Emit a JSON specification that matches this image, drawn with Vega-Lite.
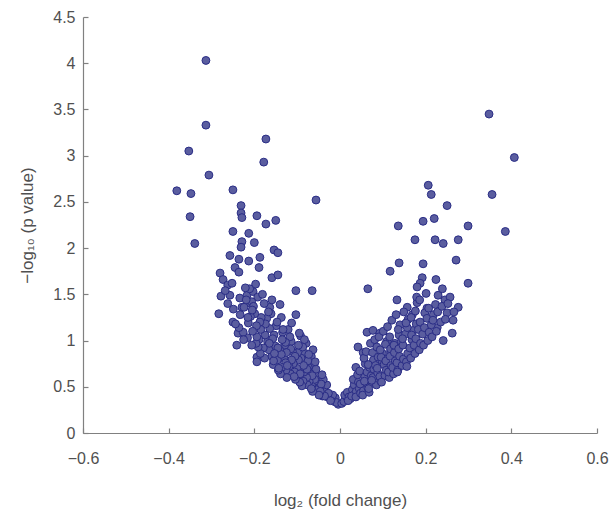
{
  "$schema": "https://vega.github.io/schema/vega-lite/v6.json",
  "width": 514,
  "height": 416,
  "autosize": {"type": "none"},
  "padding": {"left": 83, "top": 17, "right": 15, "bottom": 81},
  "background": "white",
  "config": {
    "view": {"stroke": null},
    "font": "Liberation Sans",
    "axis": {
      "grid": false,
      "domainColor": "#808080",
      "domainWidth": 1.2,
      "tickColor": "#808080",
      "tickWidth": 1.2,
      "tickSize": -5,
      "labelFont": "Liberation Sans",
      "labelFontSize": 16,
      "labelColor": "#505050",
      "titleFont": "Liberation Sans",
      "titleFontSize": 17,
      "titleFontWeight": "normal",
      "titleColor": "#505050"
    }
  },
  "data": {
    "values": [
      {"x": -0.313, "y": 4.03}, {"x": -0.313, "y": 3.33}, {"x": -0.353, "y": 3.05}, {"x": -0.173, "y": 3.18},
      {"x": -0.178, "y": 2.93}, {"x": -0.306, "y": 2.79}, {"x": -0.381, "y": 2.62}, {"x": -0.348, "y": 2.59},
      {"x": -0.25, "y": 2.63}, {"x": -0.056, "y": 2.52}, {"x": -0.35, "y": 2.34}, {"x": -0.231, "y": 2.46},
      {"x": -0.231, "y": 2.38}, {"x": -0.229, "y": 2.33}, {"x": -0.194, "y": 2.35}, {"x": -0.173, "y": 2.26},
      {"x": -0.15, "y": 2.3}, {"x": -0.339, "y": 2.05}, {"x": -0.25, "y": 2.18}, {"x": -0.213, "y": 2.16},
      {"x": -0.229, "y": 2.07}, {"x": -0.231, "y": 2.01}, {"x": -0.2, "y": 2.06}, {"x": -0.154, "y": 1.98},
      {"x": -0.145, "y": 1.95}, {"x": -0.257, "y": 1.92}, {"x": -0.236, "y": 1.88}, {"x": -0.213, "y": 1.86},
      {"x": -0.187, "y": 1.9}, {"x": -0.189, "y": 1.79}, {"x": -0.245, "y": 1.79}, {"x": -0.236, "y": 1.74},
      {"x": -0.28, "y": 1.73}, {"x": -0.273, "y": 1.66}, {"x": -0.262, "y": 1.6}, {"x": -0.252, "y": 1.62},
      {"x": -0.159, "y": 1.68}, {"x": -0.145, "y": 1.71}, {"x": -0.103, "y": 1.54}, {"x": -0.065, "y": 1.54},
      {"x": -0.278, "y": 1.48}, {"x": -0.257, "y": 1.49}, {"x": -0.234, "y": 1.46}, {"x": -0.217, "y": 1.49},
      {"x": -0.203, "y": 1.53}, {"x": -0.192, "y": 1.47}, {"x": -0.229, "y": 1.36}, {"x": -0.215, "y": 1.41},
      {"x": -0.206, "y": 1.42}, {"x": -0.159, "y": 1.44}, {"x": -0.164, "y": 1.36}, {"x": -0.14, "y": 1.39},
      {"x": -0.283, "y": 1.29}, {"x": -0.25, "y": 1.2}, {"x": -0.238, "y": 1.08}, {"x": -0.241, "y": 0.95},
      {"x": -0.194, "y": 0.82}, {"x": -0.194, "y": 0.77},

      {"x": -0.004, "y": 0.31}, {"x": -0.013, "y": 0.34}, {"x": -0.011, "y": 0.38}, {"x": -0.008, "y": 0.33},
      {"x": -0.021, "y": 0.36}, {"x": -0.017, "y": 0.41}, {"x": -0.029, "y": 0.39}, {"x": -0.022, "y": 0.35},
      {"x": -0.036, "y": 0.46}, {"x": -0.027, "y": 0.43}, {"x": -0.031, "y": 0.52}, {"x": -0.041, "y": 0.4},
      {"x": -0.036, "y": 0.4}, {"x": -0.047, "y": 0.49}, {"x": -0.039, "y": 0.58}, {"x": -0.051, "y": 0.44},
      {"x": -0.044, "y": 0.53}, {"x": -0.057, "y": 0.47}, {"x": -0.046, "y": 0.45}, {"x": -0.059, "y": 0.56},
      {"x": -0.053, "y": 0.62}, {"x": -0.049, "y": 0.41}, {"x": -0.061, "y": 0.74}, {"x": -0.042, "y": 0.63},
      {"x": -0.066, "y": 0.51}, {"x": -0.056, "y": 0.69}, {"x": -0.064, "y": 0.45}, {"x": -0.069, "y": 0.64},
      {"x": -0.059, "y": 0.58}, {"x": -0.067, "y": 0.83}, {"x": -0.072, "y": 0.56}, {"x": -0.058, "y": 0.77},
      {"x": -0.076, "y": 0.52}, {"x": -0.065, "y": 0.62}, {"x": -0.074, "y": 0.71}, {"x": -0.078, "y": 0.6},
      {"x": -0.067, "y": 0.48}, {"x": -0.081, "y": 0.86}, {"x": -0.063, "y": 0.9}, {"x": -0.079, "y": 0.97},
      {"x": -0.086, "y": 0.56}, {"x": -0.075, "y": 0.78}, {"x": -0.084, "y": 0.66}, {"x": -0.089, "y": 0.51},
      {"x": -0.077, "y": 0.69}, {"x": -0.091, "y": 0.81}, {"x": -0.073, "y": 0.85}, {"x": -0.092, "y": 1.05},
      {"x": -0.096, "y": 0.62}, {"x": -0.085, "y": 0.73}, {"x": -0.094, "y": 0.55}, {"x": -0.099, "y": 0.87},
      {"x": -0.087, "y": 0.93}, {"x": -0.101, "y": 0.7}, {"x": -0.083, "y": 1.01}, {"x": -0.097, "y": 0.79},
      {"x": -0.106, "y": 0.66}, {"x": -0.095, "y": 1.08}, {"x": -0.104, "y": 0.58}, {"x": -0.109, "y": 0.75},
      {"x": -0.097, "y": 0.95}, {"x": -0.111, "y": 0.88}, {"x": -0.093, "y": 0.64}, {"x": -0.103, "y": 1.28},
      {"x": -0.116, "y": 0.64}, {"x": -0.105, "y": 0.83}, {"x": -0.114, "y": 0.99}, {"x": -0.119, "y": 0.72},
      {"x": -0.107, "y": 0.61}, {"x": -0.121, "y": 1.12}, {"x": -0.113, "y": 0.79}, {"x": -0.126, "y": 0.68},
      {"x": -0.115, "y": 0.91}, {"x": -0.124, "y": 0.6}, {"x": -0.129, "y": 0.95}, {"x": -0.117, "y": 1.04},
      {"x": -0.131, "y": 0.81}, {"x": -0.113, "y": 1.19}, {"x": -0.127, "y": 0.76}, {"x": -0.136, "y": 0.71},
      {"x": -0.125, "y": 0.87}, {"x": -0.134, "y": 1.09}, {"x": -0.139, "y": 0.64}, {"x": -0.127, "y": 0.98},
      {"x": -0.141, "y": 0.9}, {"x": -0.123, "y": 0.73}, {"x": -0.137, "y": 1.25}, {"x": -0.146, "y": 0.79},
      {"x": -0.135, "y": 1.01}, {"x": -0.144, "y": 0.68}, {"x": -0.149, "y": 1.16}, {"x": -0.137, "y": 0.85},
      {"x": -0.151, "y": 0.94}, {"x": -0.133, "y": 1.12}, {"x": -0.156, "y": 0.74}, {"x": -0.145, "y": 0.92},
      {"x": -0.154, "y": 1.06}, {"x": -0.159, "y": 0.83}, {"x": -0.147, "y": 1.2}, {"x": -0.161, "y": 1.29},
      {"x": -0.143, "y": 0.7}, {"x": -0.166, "y": 0.9}, {"x": -0.155, "y": 0.78}, {"x": -0.164, "y": 1.13},
      {"x": -0.169, "y": 0.99}, {"x": -0.157, "y": 1.02}, {"x": -0.171, "y": 1.24}, {"x": -0.153, "y": 0.86},
      {"x": -0.176, "y": 0.81}, {"x": -0.165, "y": 0.97}, {"x": -0.174, "y": 1.18}, {"x": -0.179, "y": 0.92},
      {"x": -0.167, "y": 1.31}, {"x": -0.181, "y": 1.5}, {"x": -0.186, "y": 0.86}, {"x": -0.175, "y": 1.06},
      {"x": -0.184, "y": 1.25}, {"x": -0.189, "y": 1.01}, {"x": -0.177, "y": 1.4}, {"x": -0.191, "y": 0.93},
      {"x": -0.196, "y": 0.97}, {"x": -0.185, "y": 1.12}, {"x": -0.194, "y": 1.04}, {"x": -0.199, "y": 1.29},
      {"x": -0.187, "y": 1.2}, {"x": -0.202, "y": 1.37}, {"x": -0.206, "y": 0.95}, {"x": -0.195, "y": 1.16},
      {"x": -0.204, "y": 1.1}, {"x": -0.209, "y": 1.26}, {"x": -0.197, "y": 1.61}, {"x": -0.216, "y": 1.03},
      {"x": -0.205, "y": 1.33}, {"x": -0.214, "y": 1.19}, {"x": -0.219, "y": 1.44}, {"x": -0.211, "y": 1.56},
      {"x": -0.226, "y": 1.09}, {"x": -0.215, "y": 1.25}, {"x": -0.224, "y": 1.36}, {"x": -0.221, "y": 1.57},
      {"x": -0.236, "y": 1.14}, {"x": -0.225, "y": 1.01}, {"x": -0.233, "y": 1.28}, {"x": -0.244, "y": 1.18},
      {"x": -0.249, "y": 1.34}, {"x": -0.262, "y": 1.4}, {"x": -0.268, "y": 1.54},

      {"x": 0.348, "y": 3.45}, {"x": 0.407, "y": 2.98}, {"x": 0.206, "y": 2.68}, {"x": 0.213, "y": 2.58},
      {"x": 0.355, "y": 2.58}, {"x": 0.25, "y": 2.46}, {"x": 0.136, "y": 2.24}, {"x": 0.194, "y": 2.29},
      {"x": 0.22, "y": 2.32}, {"x": 0.299, "y": 2.24}, {"x": 0.386, "y": 2.18}, {"x": 0.175, "y": 2.09},
      {"x": 0.222, "y": 2.09}, {"x": 0.241, "y": 2.05}, {"x": 0.276, "y": 2.09}, {"x": 0.138, "y": 1.84},
      {"x": 0.117, "y": 1.75}, {"x": 0.194, "y": 1.83}, {"x": 0.271, "y": 1.87}, {"x": 0.192, "y": 1.68},
      {"x": 0.224, "y": 1.66}, {"x": 0.299, "y": 1.62}, {"x": 0.065, "y": 1.56}, {"x": 0.187, "y": 1.62},
      {"x": 0.18, "y": 1.58}, {"x": 0.133, "y": 1.44}, {"x": 0.157, "y": 1.36}, {"x": 0.18, "y": 1.41},
      {"x": 0.203, "y": 1.35}, {"x": 0.245, "y": 1.44}, {"x": 0.257, "y": 1.47}, {"x": 0.276, "y": 1.36},
      {"x": 0.25, "y": 1.3}, {"x": 0.264, "y": 1.22}, {"x": 0.227, "y": 1.14}, {"x": 0.262, "y": 1.08},
      {"x": 0.241, "y": 1.0}, {"x": 0.121, "y": 1.22}, {"x": 0.14, "y": 1.17}, {"x": 0.171, "y": 1.11},
      {"x": 0.194, "y": 1.11}, {"x": 0.063, "y": 1.09}, {"x": 0.077, "y": 1.11}, {"x": 0.093, "y": 1.08},
      {"x": 0.042, "y": 0.93}, {"x": 0.054, "y": 0.87}, {"x": 0.037, "y": 0.71},

      {"x": 0.004, "y": 0.32}, {"x": 0.013, "y": 0.36}, {"x": 0.009, "y": 0.34}, {"x": 0.016, "y": 0.39},
      {"x": 0.011, "y": 0.41}, {"x": 0.024, "y": 0.37}, {"x": 0.017, "y": 0.44}, {"x": 0.021, "y": 0.39},
      {"x": 0.029, "y": 0.47}, {"x": 0.019, "y": 0.35}, {"x": 0.035, "y": 0.42}, {"x": 0.027, "y": 0.4},
      {"x": 0.033, "y": 0.52}, {"x": 0.038, "y": 0.45}, {"x": 0.031, "y": 0.58}, {"x": 0.045, "y": 0.48},
      {"x": 0.037, "y": 0.39}, {"x": 0.043, "y": 0.55}, {"x": 0.048, "y": 0.43}, {"x": 0.041, "y": 0.63},
      {"x": 0.055, "y": 0.46}, {"x": 0.047, "y": 0.53}, {"x": 0.053, "y": 0.41}, {"x": 0.058, "y": 0.61},
      {"x": 0.046, "y": 0.67}, {"x": 0.059, "y": 0.75}, {"x": 0.065, "y": 0.49}, {"x": 0.057, "y": 0.56},
      {"x": 0.063, "y": 0.66}, {"x": 0.068, "y": 0.44}, {"x": 0.056, "y": 0.81}, {"x": 0.069, "y": 0.71},
      {"x": 0.061, "y": 0.88}, {"x": 0.075, "y": 0.54}, {"x": 0.067, "y": 0.48}, {"x": 0.073, "y": 0.62},
      {"x": 0.078, "y": 0.79}, {"x": 0.066, "y": 0.74}, {"x": 0.079, "y": 0.69}, {"x": 0.071, "y": 0.97},
      {"x": 0.085, "y": 0.52}, {"x": 0.077, "y": 0.6}, {"x": 0.083, "y": 0.73}, {"x": 0.088, "y": 0.65},
      {"x": 0.076, "y": 0.87}, {"x": 0.089, "y": 0.82}, {"x": 0.081, "y": 1.01}, {"x": 0.074, "y": 0.57},
      {"x": 0.095, "y": 0.56}, {"x": 0.087, "y": 0.7}, {"x": 0.093, "y": 0.61}, {"x": 0.098, "y": 0.78},
      {"x": 0.086, "y": 0.93}, {"x": 0.099, "y": 0.86}, {"x": 0.091, "y": 1.04}, {"x": 0.105, "y": 0.62},
      {"x": 0.097, "y": 0.55}, {"x": 0.103, "y": 0.74}, {"x": 0.108, "y": 0.68}, {"x": 0.096, "y": 0.82},
      {"x": 0.109, "y": 0.99}, {"x": 0.101, "y": 1.1}, {"x": 0.094, "y": 0.9}, {"x": 0.115, "y": 0.6},
      {"x": 0.107, "y": 0.78}, {"x": 0.113, "y": 0.66}, {"x": 0.118, "y": 0.88}, {"x": 0.106, "y": 0.96},
      {"x": 0.119, "y": 0.73}, {"x": 0.111, "y": 1.15}, {"x": 0.125, "y": 0.64}, {"x": 0.117, "y": 0.83},
      {"x": 0.123, "y": 0.71}, {"x": 0.128, "y": 0.97}, {"x": 0.116, "y": 1.04}, {"x": 0.129, "y": 0.78},
      {"x": 0.118, "y": 0.91}, {"x": 0.135, "y": 0.68}, {"x": 0.127, "y": 0.87}, {"x": 0.133, "y": 0.76},
      {"x": 0.138, "y": 1.06}, {"x": 0.126, "y": 0.95}, {"x": 0.139, "y": 0.83}, {"x": 0.131, "y": 1.28},
      {"x": 0.145, "y": 0.73}, {"x": 0.137, "y": 0.91}, {"x": 0.143, "y": 0.99}, {"x": 0.148, "y": 0.8},
      {"x": 0.136, "y": 1.12}, {"x": 0.149, "y": 1.31}, {"x": 0.134, "y": 0.66}, {"x": 0.155, "y": 0.77},
      {"x": 0.147, "y": 0.95}, {"x": 0.153, "y": 1.07}, {"x": 0.158, "y": 0.86}, {"x": 0.146, "y": 1.02},
      {"x": 0.159, "y": 1.23}, {"x": 0.165, "y": 0.81}, {"x": 0.157, "y": 1.14}, {"x": 0.163, "y": 0.92},
      {"x": 0.168, "y": 1.01}, {"x": 0.156, "y": 0.72}, {"x": 0.169, "y": 1.28}, {"x": 0.154, "y": 1.19},
      {"x": 0.175, "y": 0.86}, {"x": 0.167, "y": 1.06}, {"x": 0.173, "y": 0.95}, {"x": 0.178, "y": 1.18},
      {"x": 0.166, "y": 1.25}, {"x": 0.179, "y": 1.47}, {"x": 0.185, "y": 0.9}, {"x": 0.177, "y": 1.02},
      {"x": 0.183, "y": 1.12}, {"x": 0.188, "y": 0.97}, {"x": 0.176, "y": 1.32}, {"x": 0.195, "y": 0.95},
      {"x": 0.187, "y": 1.2}, {"x": 0.193, "y": 1.07}, {"x": 0.198, "y": 1.3}, {"x": 0.186, "y": 1.44},
      {"x": 0.205, "y": 1.0}, {"x": 0.197, "y": 1.14}, {"x": 0.203, "y": 1.24}, {"x": 0.208, "y": 1.09},
      {"x": 0.201, "y": 1.51}, {"x": 0.215, "y": 1.04}, {"x": 0.207, "y": 1.35}, {"x": 0.213, "y": 1.17},
      {"x": 0.218, "y": 1.28}, {"x": 0.225, "y": 1.1}, {"x": 0.217, "y": 1.22}, {"x": 0.223, "y": 1.39},
      {"x": 0.229, "y": 1.49}, {"x": 0.235, "y": 1.2}, {"x": 0.228, "y": 1.31}, {"x": 0.239, "y": 1.56},
      {"x": 0.246, "y": 1.23}, {"x": 0.238, "y": 1.37}, {"x": 0.252, "y": 1.4}, {"x": 0.266, "y": 1.31}
    ]
  },
  "mark": {"type": "point", "filled": true, "size": 62, "fill": "#5a5d9f", "stroke": "#2a2d86", "strokeWidth": 1, "opacity": 1, "fillOpacity": 1},
  "encoding": {
    "x": {
      "field": "x", "type": "quantitative",
      "scale": {"domain": [-0.6, 0.6], "nice": false, "zero": false},
      "axis": {"values": [-0.6, -0.4, -0.2, 0, 0.2, 0.4, 0.6], "format": "~g", "labelFlush": false, "labelPadding": 22, "title": "log₂ (fold change)", "titleY": 72, "titleBaseline": "alphabetic"}
    },
    "y": {
      "field": "y", "type": "quantitative",
      "scale": {"domain": [0, 4.5], "nice": false},
      "axis": {"values": [0, 0.5, 1, 1.5, 2, 2.5, 3, 3.5, 4, 4.5], "format": "~g", "labelFlush": false, "labelPadding": 13, "title": "−log₁₀ (p value)", "titleX": -56, "titleY": 208, "titleAlign": "center", "titleBaseline": "middle", "titleAngle": -90}
    }
  }
}
